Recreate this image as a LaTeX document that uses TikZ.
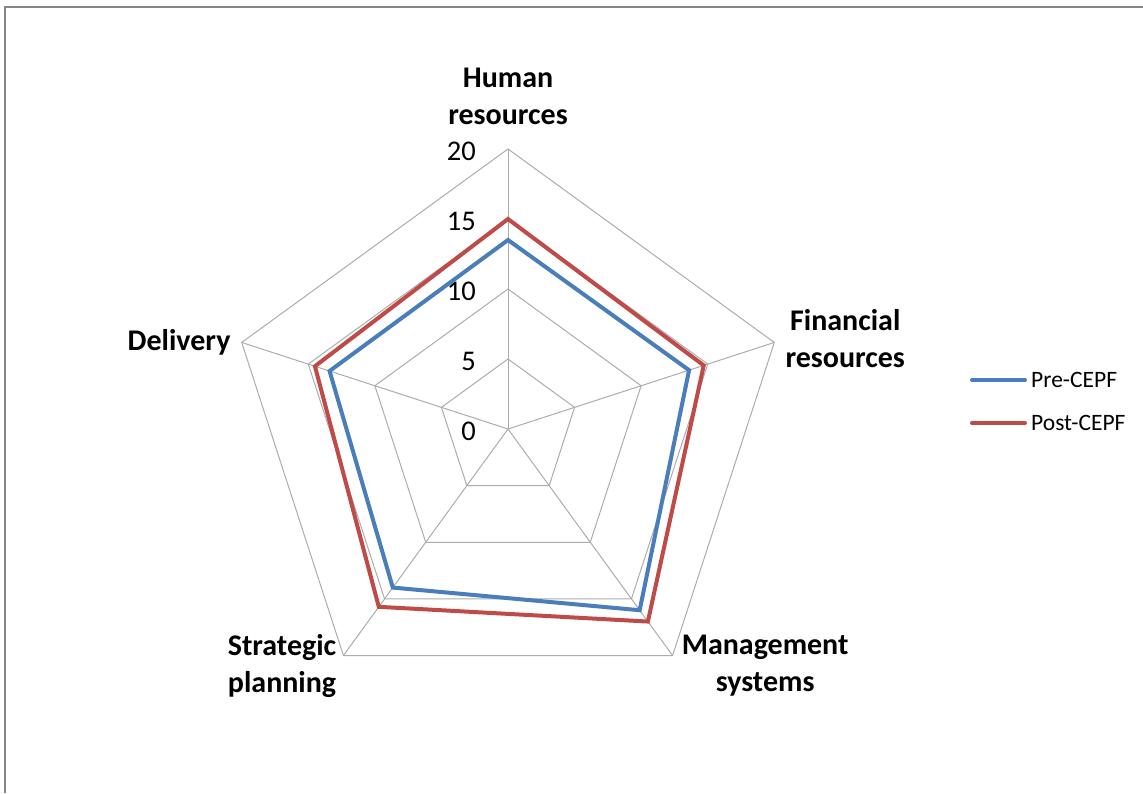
\documentclass[tikz,border=0pt]{standalone}
\usepackage{fontspec}
\setmainfont{Carlito}
\usetikzlibrary{positioning}
\definecolor{preblue}{HTML}{4A7EBB}
\definecolor{postred}{HTML}{BE4B48}

\begin{document}
\begin{tikzpicture}[
    x=1pt, y=1pt,
    web/.style={draw=gray!65, line width=1pt},
    frame/.style={draw=gray!95, line width=2pt},
    series/.style={line width=4pt, line join=miter},
    axislabel/.style={font=\fontsize{30}{37}\selectfont\bfseries, align=center, inner sep=0pt},
    ticklabel/.style={font=\fontsize{28.5}{34}\selectfont, anchor=east, inner sep=0pt},
    legendtext/.style={font=\fontsize{23.5}{28}\selectfont, inner sep=0pt}
]
\useasboundingbox (0,0) rectangle (1143,793);

% Chart frame
\draw[frame] (5,0) -- (5,786) -- (1143,786);

% Radar web
\coordinate (ctr) at (508,364);
\begin{scope}[shift={(ctr)}]
  \foreach \a [count=\i] in {90,18,-54,-126,162}
    \coordinate (ax\i) at (\a:280);
  \foreach \r in {70,140,210,280}
    \draw[web] (90:\r) -- (18:\r) -- (-54:\r) -- (-126:\r) -- (162:\r) -- cycle;

  % Tick labels
  \foreach \v in {0,5,10,15,20}
    \node[ticklabel] (tick\v) at (-32,\v*14-2) {\v};

  % Data points
  \foreach \a/\v [count=\i] in {90/13.5, 18/13.6, -54/16, -126/14, 162/13.4}
    \coordinate (pre\i) at (\a:\v*14);
  \foreach \a/\v [count=\i] in {90/15, 18/14.7, -54/17, -126/15.7, 162/14.5}
    \coordinate (post\i) at (\a:\v*14);
\end{scope}
\foreach \i in {1,...,5}
  \draw[web] (ctr) -- (ax\i);

% Series
\draw[series, preblue] (pre1) -- (pre2) -- (pre3) -- (pre4) -- (pre5) -- cycle;
\draw[series, postred] (post1) -- (post2) -- (post3) -- (post4) -- (post5) -- cycle;

% Axis labels
\node[axislabel, above=24pt of ax1] (human) {Human\\resources};
\node[axislabel, right=11pt of ax2, yshift=4pt] (financial) {Financial\\resources};
\node[axislabel, right=9pt of ax3, yshift=-10pt] (management) {Management\\systems};
\node[axislabel, left=7pt of ax4, yshift=-10pt] (strategic) {Strategic\\planning};
\node[axislabel, left=11pt of ax5] (delivery) {Delivery};

% Legend
\coordinate (preA) at (972,413);
\coordinate (preB) at (1025,413);
\coordinate (postA) at (972,370);
\coordinate (postB) at (1025,370);
\draw[preblue, line width=4pt, line cap=round] (preA) -- (preB);
\draw[postred, line width=4pt, line cap=round] (postA) -- (postB);
\node[legendtext, right=6pt of preB] (prelabel) {Pre-CEPF};
\node[legendtext, right=6pt of postB] (postlabel) {Post-CEPF};

\end{tikzpicture}
\end{document}
